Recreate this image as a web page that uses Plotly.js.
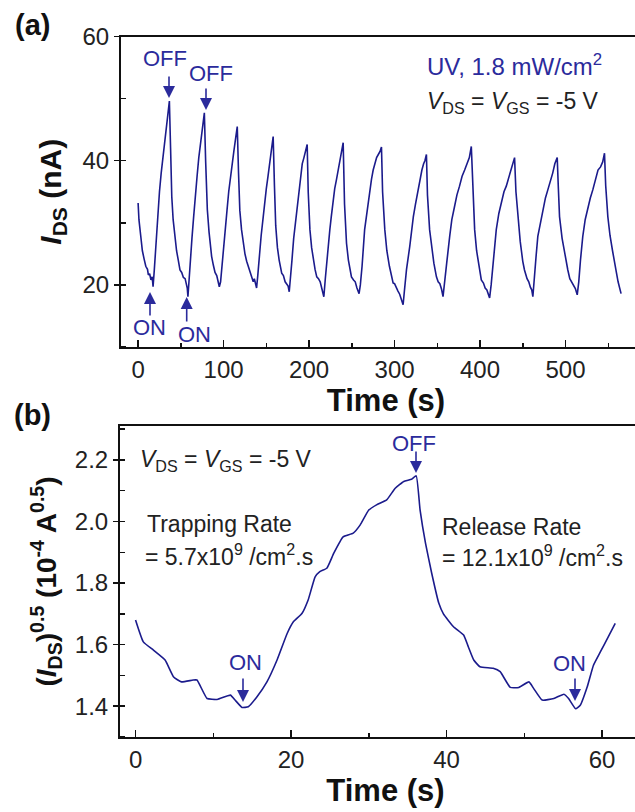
<!DOCTYPE html>
<html>
<head>
<meta charset="utf-8">
<script src="https://cdn.plot.ly/plotly-3.0.1.min.js"></script>
<style>html,body{margin:0;padding:0;overflow:hidden;background:#fff;}#chart{width:660px;height:812px;}</style>
</head>
<body>
<div id="chart"></div>
<script>
// Panel (a): drain current vs time under pulsed UV
const timeA = [0,1,3,5,7,9,11,12,13.5,15,16.5,17.5,19,21,23,25,27,29,31,33,35,36.6,38,39.4,41,43,45,47,49,51,53,55,56.5,57.5,58.3,59.5,61,63,65,67,69,71,73,75,77.5,79,81,83,86,88,90,92,93.5,95,96.5,98,100,102,104,106,108,110,112,114,116,117.5,119,121,123,125,127,129,131,133,134.7,136,138.6,140,142,144,146.4,148,150,152,154,156,158,159.5,161,163,165,168,170,172,174,175.5,176.8,178,180,182,184,186,188,190,192,194,196,197.8,199,201,203,205,207,209,211,213,215,217.3,219,221,224.3,226,228,230,232,234,236,238,239.9,241.5,243.8,246,249.6,252,254,256,258.5,260,262,265,267,269,271,273,275,277,279,281,283,284.7,286,288.6,291,294,296,298.3,300,302,304,306,308,310,311.5,314,317.8,320,322,324.5,327.5,330,332,334,335.5,337.3,338.5,341,344,346,349,351,353,355,356.7,358,361,364.5,367,370,373,376,379,382,385,387.5,389.8,391.5,393.7,396,399,401.5,404,406,408,409.5,411.2,413,416,419,422,425,428,430.7,433,436,438.5,440.4,442,444.3,447,450,452,455,457,459,460.5,461.8,463.5,465.5,467.6,470.5,473.5,476.5,479.3,482,485,487.5,490.3,491.5,493,496,499,502.7,505,507.5,509.5,511.5,513.7,515.5,517.5,520.2,523,526,529,531.9,535,538,541,543.5,545.6,547,549.5,552,555,557.2,559.5,561.5,563,565];
const idsA = [33.2,30.5,28.0,25.5,24.2,23.0,22.5,21.6,21.8,20.8,21.3,19.7,22.5,27,31,35,38,40.5,43.5,45,47.5,49.6,42,34.2,30.5,27.8,25.5,24,22.4,22.0,21.2,21.0,20.3,19.5,18.1,21,24.5,27.5,31,35,37.5,40.5,42.5,44.5,47.7,40,32.1,28.5,24.6,23.2,22.0,21.5,20.5,19.7,20.5,23,26.5,29.5,32,35,37.5,40,41.5,43.5,45.5,38,32,28.9,26.5,25,23.8,23,22,21.3,20.5,21,19.5,21.5,25,28,31,33.5,35.5,37.5,40,41.5,43.9,36,29.5,26,24,21.9,21.5,20.5,20.2,19.8,18.9,20.5,24,27.5,30,33,35.5,37.5,39.5,40.5,41.5,42.6,35,28.9,26,24,22.5,21.3,21,20.5,19.5,18.1,21,24.5,28.9,31,33.5,35.5,36.9,38.5,40,41,42.9,33,26.7,24,21.3,20.8,20.5,19.5,18.6,20,23,28.9,31,33.5,35.5,37,38.5,39.5,40.5,41,41.5,42.2,35,28.9,25.5,23,21.5,20.3,20.2,19.5,19,18.5,17.5,16.8,19,22.5,26.2,29,31,33,35.3,37,38.5,39.5,40,41,34.5,28.9,25,23.5,21.3,20.5,20.2,19.3,18.1,20,23.5,27.8,30.5,32.5,34.5,35.9,37.5,38.5,39.5,40.5,42.3,35,28.9,25.5,22.5,20.8,20.3,19.5,19.2,18.5,17.9,20,24.5,28.9,31.5,33.5,35,35.9,37,38.5,39.5,40.5,35,31,27,23.8,22.4,21,20.5,19.6,19.2,18.1,20.5,24.5,27.8,30,32,34,35.3,36.5,38,39.5,40.5,36,31,27.5,25,22.4,21,20.3,19.8,19.4,18.4,20.5,24,27.8,30.5,32.5,34,35.3,37,38.5,39,39.8,41.2,36,31,28,25.5,23.5,22,20.5,19.5,18.6];

// Panel (b): square root of drain current over one on/off cycle
const timeB = [0,1,2.3,3.8,4.9,5.9,7.4,7.9,9.2,10.5,12.2,12.8,13.7,14.5,15.6,16.9,18.2,19.5,20.3,21.4,22.2,23.1,23.7,24.6,25.5,26.7,28.0,28.9,30,31,32.3,33.4,34.5,35.5,36.1,36.6,37.3,38.1,39.0,39.6,40.9,42.2,42.8,43.5,44.3,46,46.9,48.2,49.3,50.6,51.2,52.3,53.8,55.1,55.7,56.6,57.2,58.1,58.9,59.8,60.8,61.7];
const sqrtB = [1.680,1.609,1.582,1.550,1.495,1.479,1.485,1.485,1.425,1.422,1.436,1.420,1.396,1.398,1.430,1.479,1.550,1.636,1.674,1.701,1.745,1.820,1.837,1.848,1.897,1.950,1.962,1.989,2.037,2.054,2.070,2.108,2.130,2.137,2.148,2.037,1.929,1.831,1.735,1.700,1.658,1.631,1.593,1.550,1.528,1.523,1.512,1.461,1.461,1.479,1.458,1.420,1.425,1.439,1.425,1.392,1.403,1.463,1.533,1.577,1.625,1.669];

const ticksA = [0,100,200,300,400,500];
const ticksAy = [20,40,60];
const ticksB = [0,20,40,60];
const ticksBy = [1.4,1.6,1.8,2.0,2.2];

const W = 660, H = 812;
const px = v => v / W;
const py = v => 1 - v / H;
const LINE = '#1b1b8c';
const BLUE = '#2b2b9c';
const FONT = 'Arial, "Liberation Sans", sans-serif';

const traces = [
  {x: timeA, y: idsA, type: 'scatter', mode: 'lines', line: {color: LINE, width: 1.6}, xaxis: 'x', yaxis: 'y', hoverinfo: 'skip'},
  {x: timeB, y: sqrtB, type: 'scatter', mode: 'lines', line: {color: LINE, width: 1.6, shape: 'spline', smoothing: 0.4}, xaxis: 'x2', yaxis: 'y2', hoverinfo: 'skip'}
];

const axBase = {
  showline: true, linecolor: '#111', linewidth: 2, mirror: true,
  showgrid: false, zeroline: false,
  tickfont: {family: FONT, size: 24, color: '#222'},
  tickcolor: '#111', tickwidth: 1.5
};

const layout = {
  width: W, height: H,
  margin: {l: 0, r: 0, t: 0, b: 0},
  paper_bgcolor: '#fff', plot_bgcolor: '#fff',
  showlegend: false,
  font: {family: FONT, color: '#222'},
  xaxis: Object.assign({}, axBase, {
    domain: [px(121), px(651)], range: [-20, 600], anchor: 'y',
    tickvals: ticksA, ticks: 'inside', ticklen: 7,
    minor: {dtick: 50, tick0: 0, ticks: 'inside', ticklen: 4, tickcolor: '#111', tickwidth: 1.5},
    title: {text: '<b>Time (s)</b>', font: {family: FONT, size: 31, color: '#111'}, standoff: 6}
  }),
  yaxis: Object.assign({}, axBase, {
    domain: [py(347), py(36.5)], range: [10, 60], anchor: 'x',
    tickvals: ticksAy, ticks: 'outside', ticklen: 5,
    minor: {dtick: 10, tick0: 0, ticks: 'inside', ticklen: 5, tickcolor: '#111', tickwidth: 1.5},
    title: {text: '<b><i>I</i><sub>DS</sub> (nA)</b>', font: {family: FONT, size: 30, color: '#111'}, standoff: 12}
  }),
  xaxis2: Object.assign({}, axBase, {
    domain: [px(120), px(651)], range: [-2, 66.3], anchor: 'y2',
    tickvals: ticksB, ticks: 'inside', ticklen: 7,
    minor: {dtick: 10, tick0: 0, ticks: 'inside', ticklen: 4, tickcolor: '#111', tickwidth: 1.5},
    title: {text: '<b>Time (s)</b>', font: {family: FONT, size: 31, color: '#111'}, standoff: 6}
  }),
  yaxis2: Object.assign({}, axBase, {
    domain: [py(737), py(426)], range: [1.3, 2.31], anchor: 'x2',
    tickvals: ticksBy, ticktext: ticksBy.map(v => v.toFixed(1)), ticks: 'outside', ticklen: 5,
    minor: {dtick: 0.1, tick0: 1.3, ticks: 'inside', ticklen: 5, tickcolor: '#111', tickwidth: 1.5},
    title: {text: '<b>(<i>I</i><sub>DS</sub>)<sup>0.5</sup> (10<sup>-4</sup> A<sup>0.5</sup>)</b>', font: {family: FONT, size: 28, color: '#111'}, standoff: 10}
  }),
  annotations: []
};

function label(text, x, y, opts) {
  layout.annotations.push(Object.assign({
    text: text, xref: 'paper', yref: 'paper', x: px(x), y: py(y),
    xanchor: 'center', yanchor: 'middle', showarrow: false,
    font: {family: FONT, size: 23, color: '#222'}
  }, opts || {}));
}
function arrow(x, yHead, yTail) {
  layout.annotations.push({
    text: '', xref: 'paper', yref: 'paper', x: px(x), y: py(yHead),
    ax: 0, ay: yTail - yHead, showarrow: true,
    arrowhead: 2, arrowsize: 1.5, arrowwidth: 1.6, arrowcolor: BLUE
  });
}

// panel letters
label('<b>(a)</b>', 32, 25, {font: {family: FONT, size: 29, color: '#111'}});
label('<b>(b)</b>', 32, 415, {font: {family: FONT, size: 29, color: '#111'}});

// panel (a) annotations
const blueFont = {family: FONT, size: 22, color: BLUE};
label('OFF', 165, 59, {font: blueFont});
label('OFF', 211, 74, {font: blueFont});
label('ON', 149.5, 328, {font: blueFont});
label('ON', 194, 334, {font: blueFont});
arrow(169, 98, 75);
arrow(206, 110, 87);
arrow(150, 292, 317);
arrow(186.7, 297, 323);
label('UV, 1.8 mW/cm<sup>2</sup>', 425, 65, {xanchor: 'left', font: {family: FONT, size: 24, color: BLUE}});
label('<i>V</i><sub>DS</sub> = <i>V</i><sub>GS</sub> = -5 V', 425, 102, {xanchor: 'left'});

// panel (b) annotations
label('OFF', 414, 443, {font: blueFont});
label('ON', 245, 662, {font: blueFont});
label('ON', 569, 663, {font: blueFont});
arrow(416, 473, 450);
arrow(243, 702, 677);
arrow(575, 701, 677);
label('<i>V</i><sub>DS</sub> = <i>V</i><sub>GS</sub> = -5 V', 138, 460, {xanchor: 'left'});
label('Trapping Rate', 145, 524, {xanchor: 'left'});
label('= 5.7x10<sup>9</sup> /cm<sup>2</sup>.s', 143, 555, {xanchor: 'left'});
label('Release Rate', 440, 527, {xanchor: 'left'});
label('= 12.1x10<sup>9</sup> /cm<sup>2</sup>.s', 440, 556, {xanchor: 'left'});

Plotly.newPlot('chart', traces, layout, {displayModeBar: false, staticPlot: true});
</script>
</body>
</html>
